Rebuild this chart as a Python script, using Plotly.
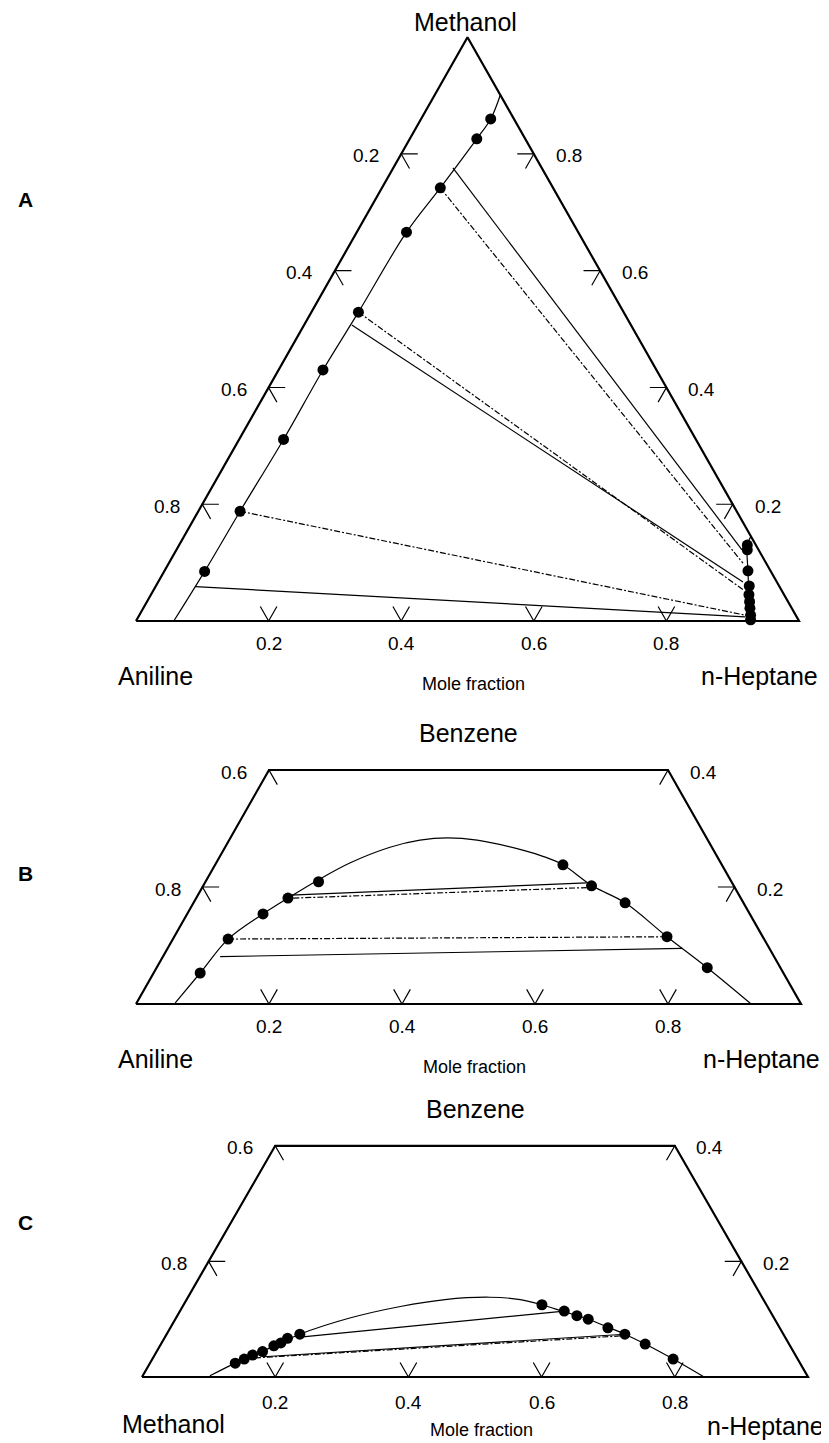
import plotly.graph_objects as go

# The page body has an 8 px default margin, so the figure is sized and
# positioned to sit exactly in the 829 x 1443 window.
WIN_W, WIN_H = 829, 1443
PAGE_MARGIN = 8
FIG_W, FIG_H = WIN_W - PAGE_MARGIN, WIN_H - PAGE_MARGIN
FONT = "Liberation Sans, Arial, Helvetica, sans-serif"

# ---------------- data (mole fractions) ----------------
# Each point is (top component, bottom-right component)
# Panel A: top = Methanol, left = Aniline, right = n-Heptane
A_curve_left = [(0.0, 0.057), (0.085, 0.061), (0.188, 0.063), (0.311, 0.067), (0.430, 0.067),
                (0.529, 0.071), (0.666, 0.075), (0.742, 0.088), (0.826, 0.101), (0.860, 0.105),
                (0.901, 0.099)]
A_curve_right = [(0.0, 0.926), (0.010, 0.922), (0.022, 0.915), (0.045, 0.902), (0.086, 0.880),
                 (0.130, 0.857), (0.145, 0.855)]
A_points = [(0.085, 0.061), (0.188, 0.063), (0.311, 0.067), (0.430, 0.067), (0.529, 0.071),
            (0.666, 0.075), (0.742, 0.088), (0.826, 0.101), (0.860, 0.105),
            (0.130, 0.857), (0.122, 0.861), (0.086, 0.880), (0.060, 0.895), (0.045, 0.902),
            (0.033, 0.909), (0.022, 0.915), (0.010, 0.922), (0.002, 0.926)]
A_tie_solid = [((0.776, 0.090), (0.122, 0.853)),
               ((0.507, 0.072), (0.067, 0.882)),
               ((0.059, 0.060), (0.007, 0.915))]
A_tie_dashdot = [((0.742, 0.088), (0.099, 0.866)),
                 ((0.529, 0.071), (0.053, 0.890)),
                 ((0.188, 0.063), (0.010, 0.914))]
A_bottom_ticks = [0.2, 0.4, 0.6, 0.8]   # n-Heptane
A_left_ticks = [0.2, 0.4, 0.6, 0.8]     # Aniline
A_right_ticks = [0.8, 0.6, 0.4, 0.2]    # Methanol

# Panel B: top = Benzene, left = Aniline, right = n-Heptane
B_curve = [(0.002, 0.058), (0.053, 0.070), (0.111, 0.083), (0.154, 0.114), (0.181, 0.138),
           (0.212, 0.168), (0.241, 0.201), (0.268, 0.248), (0.280, 0.287), (0.284, 0.326),
           (0.280, 0.373), (0.263, 0.450), (0.252, 0.487), (0.238, 0.523), (0.202, 0.585),
           (0.173, 0.649), (0.115, 0.741), (0.062, 0.828), (0.0, 0.925)]
B_points = [(0.053, 0.070), (0.111, 0.083), (0.154, 0.114), (0.181, 0.138), (0.209, 0.170),
            (0.238, 0.523), (0.202, 0.584), (0.173, 0.649), (0.115, 0.741), (0.062, 0.828)]
B_tie_solid = [((0.186, 0.139), (0.207, 0.574)),
               ((0.081, 0.086), (0.095, 0.774))]
B_tie_dashdot = [((0.181, 0.146), (0.199, 0.578)),
                 ((0.111, 0.083), (0.115, 0.741))]
B_bottom_ticks = [0.2, 0.4, 0.6, 0.8]   # n-Heptane
B_left_ticks = [0.6, 0.8]               # Aniline
B_right_ticks = [0.4, 0.2]              # Benzene
B_top_cut = 0.4

# Panel C: top = Benzene, left = Methanol, right = n-Heptane
C_curve = [(0.002, 0.101), (0.024, 0.128), (0.044, 0.158), (0.074, 0.200), (0.102, 0.261),
           (0.122, 0.327), (0.134, 0.388), (0.138, 0.453), (0.134, 0.501), (0.125, 0.538),
           (0.113, 0.577), (0.100, 0.620), (0.086, 0.657), (0.074, 0.688), (0.057, 0.727),
           (0.031, 0.782), (0.0, 0.844)]
C_points = [(0.024, 0.128), (0.031, 0.138), (0.038, 0.147), (0.044, 0.159), (0.054, 0.171),
            (0.059, 0.179), (0.067, 0.185), (0.074, 0.200),
            (0.125, 0.538), (0.114, 0.577), (0.106, 0.600), (0.100, 0.620), (0.085, 0.657),
            (0.074, 0.688), (0.057, 0.727), (0.031, 0.782)]
C_tie_solid = [((0.069, 0.203), (0.114, 0.577)),
               ((0.035, 0.165), (0.074, 0.688))]
C_tie_dashdot = [((0.033, 0.153), (0.071, 0.682))]
C_bottom_ticks = [0.2, 0.4, 0.6, 0.8]   # n-Heptane
C_left_ticks = [0.6, 0.8]               # Methanol
C_right_ticks = [0.4, 0.2]              # Benzene
C_top_cut = 0.4

# ---------------- layout geometry (window pixels) ----------------
PANELS = [
    dict(key="", left=136, base=621, w=663, h=584, yr=(-0.13, 1.05)),
    dict(key="2", left=136, base=1004, w=665, h=585, yr=(-0.13, 0.50)),
    dict(key="3", left=142, base=1377, w=666, h=578, yr=(-0.11, 0.50)),
]
TICK_LEN = 0.025
DASHDOT = "6px,2px,2px,2px"


def xy(pts):
    """ternary (top, right) -> cartesian x, y (y = top fraction)"""
    return [p[1] + p[0] / 2 for p in pts], [p[0] for p in pts]


fig = go.Figure()
annotations = []


def add_line(k, pts, width=1.2, dash="solid", shape="linear"):
    x, y = xy(pts)
    fig.add_trace(go.Scatter(x=x, y=y, mode="lines", xaxis="x" + k, yaxis="y" + k,
                             line=dict(color="black", width=width, dash=dash, shape=shape),
                             hoverinfo="skip"))


def add_segments(k, segs, width=1.2, dash="solid"):
    xs, ys = [], []
    for s in segs:
        x, y = xy(list(s))
        xs += x + [None]
        ys += y + [None]
    fig.add_trace(go.Scatter(x=xs, y=ys, mode="lines", xaxis="x" + k, yaxis="y" + k,
                             line=dict(color="black", width=width, dash=dash),
                             hoverinfo="skip", connectgaps=False))


def add_points(k, pts):
    x, y = xy(pts)
    fig.add_trace(go.Scatter(x=x, y=y, mode="markers", xaxis="x" + k, yaxis="y" + k,
                             marker=dict(color="black", size=11, symbol="circle"),
                             hoverinfo="skip"))


def add_ticks(k, bottom, left, right, bshift):
    segs = []
    for v in bottom:  # bottom edge: top = 0, right = v
        segs.append(((TICK_LEN, v), (0, v), (TICK_LEN, v - TICK_LEN)))
        annotations.append(dict(x=v, y=0, xref="x" + k, yref="y" + k, text=f"{v:.1f}",
                                showarrow=False, yshift=bshift, font=dict(size=19)))
    for v in left:  # left edge: right = 0, top = 1 - v
        a = 1 - v
        segs.append(((a, TICK_LEN), (a, 0), (a - TICK_LEN, TICK_LEN)))
        annotations.append(dict(x=a / 2, y=a, xref="x" + k, yref="y" + k, text=f"{v:.1f}",
                                showarrow=False, xshift=-35, yshift=-2, font=dict(size=19)))
    for v in right:  # right edge: left = 0, top = v
        a, c = v, 1 - v
        segs.append(((a, c - TICK_LEN), (a, c), (a - TICK_LEN, c)))
        annotations.append(dict(x=c + a / 2, y=a, xref="x" + k, yref="y" + k, text=f"{v:.1f}",
                                showarrow=False, xshift=35, yshift=-2, font=dict(size=19)))
    add_segments(k, segs, width=1.2)


def add_frame(k, top_cut):
    if top_cut >= 1:
        pts = [(0, 0), (0, 1), (1, 0), (0, 0)]
    else:
        pts = [(0, 0), (0, 1), (top_cut, 1 - top_cut), (top_cut, 0), (0, 0)]
    add_line(k, pts, width=2.2)


def label(k, text, a, c, xs, ys, size=26, xanchor="center"):
    annotations.append(dict(x=c + a / 2, y=a, xref="x" + k, yref="y" + k, text=text,
                            showarrow=False, xshift=xs, yshift=ys, xanchor=xanchor,
                            font=dict(size=size)))


# ---- Panel A ----
add_frame("", 1.0)
add_ticks("", A_bottom_ticks, A_left_ticks, A_right_ticks, -22)
add_line("", A_curve_left, shape="spline")
add_line("", A_curve_right, shape="spline")
add_segments("", A_tie_solid)
add_segments("", A_tie_dashdot, dash=DASHDOT)
add_points("", A_points)
label("", "Methanol", 1.0, 0.0, -2, 15, size=25)
label("", "Aniline", 0.0, 0.0, -20, -55, size=25, xanchor="left")
label("", "n-Heptane", 0.0, 1.0, 21, -55, size=25, xanchor="right")
label("", "Mole fraction", 0.0, 0.5, 6, -63, size=18)

# ---- Panel B ----
add_frame("2", B_top_cut)
add_ticks("2", B_bottom_ticks, B_left_ticks, B_right_ticks, -22)
add_line("2", B_curve, shape="spline")
add_segments("2", B_tie_solid)
add_segments("2", B_tie_dashdot, dash=DASHDOT)
add_points("2", B_points)
label("2", "Benzene", B_top_cut, 0.5 - B_top_cut / 2, 0, 37, size=25)
label("2", "Aniline", 0.0, 0.0, -20, -55, size=25, xanchor="left")
label("2", "n-Heptane", 0.0, 1.0, 21, -55, size=25, xanchor="right")
label("2", "Mole fraction", 0.0, 0.5, 6, -63, size=18)

# ---- Panel C ----
add_frame("3", C_top_cut)
add_ticks("3", C_bottom_ticks, C_left_ticks, C_right_ticks, -25)
add_line("3", C_curve, shape="spline")
add_segments("3", C_tie_solid)
add_segments("3", C_tie_dashdot, dash=DASHDOT)
add_points("3", C_points)
label("3", "Benzene", C_top_cut, 0.5 - C_top_cut / 2, 0, 37, size=25)
label("3", "Methanol", 0.0, 0.0, -22, -47, size=25, xanchor="left")
label("3", "n-Heptane", 0.0, 1.0, 18, -49, size=25, xanchor="right")
label("3", "Mole fraction", 0.0, 0.5, 6, -53, size=18)

# panel letters (window pixels)
for letter, ypix in [("A", 186), ("B", 874), ("C", 1236)]:
    annotations.append(dict(x=(16 - PAGE_MARGIN) / FIG_W, y=1 - (ypix - PAGE_MARGIN) / FIG_H,
                            xref="paper", yref="paper", text=f"<b>{letter}</b>",
                            showarrow=False, font=dict(size=21)))

layout = dict(width=FIG_W, height=FIG_H, margin=dict(l=0, r=0, t=0, b=0),
              paper_bgcolor="white", plot_bgcolor="white", showlegend=False,
              font=dict(family=FONT, color="black"), annotations=annotations)
for p in PANELS:
    k = p["key"]
    left = p["left"] - PAGE_MARGIN
    base = p["base"] - PAGE_MARGIN
    x0 = -left / p["w"]
    x1 = (FIG_W - left) / p["w"]
    ylo, yhi = p["yr"]
    bot_px = base - p["h"] * ylo
    top_px = base - p["h"] * yhi
    layout["xaxis" + k] = dict(range=[x0, x1], domain=[0, 1], visible=False, fixedrange=True,
                               anchor="y" + k)
    layout["yaxis" + k] = dict(range=[ylo, yhi],
                               domain=[max(0, 1 - bot_px / FIG_H), min(1, 1 - top_px / FIG_H)],
                               visible=False, fixedrange=True, anchor="x" + k)
fig.update_layout(**layout)
fig.write_html("out.html")
